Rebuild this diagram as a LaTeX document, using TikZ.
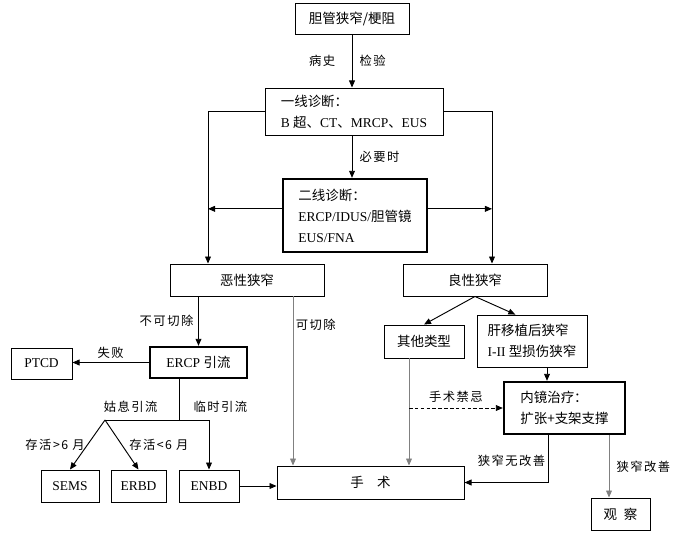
\documentclass[tikz,border=0pt]{standalone}
\usepackage{fontspec}
\setmainfont{Liberation Serif}
\newfontfamily\cjk{Noto Sans CJK SC}
\newfontfamily\cjklbl[LetterSpace=12]{Noto Sans CJK SC}
\usetikzlibrary{arrows.meta,calc}

\tikzset{
    >={Triangle[length=6pt,width=5pt]},
    box/.style={draw, inner sep=0cm, align=left, font=\fontsize{11.5}{18}\selectfont},
    thickbox/.style={box, line width=2pt},
    lbl/.style={inner sep=2pt, font=\cjklbl\fontsize{10.5}{12}\selectfont},
}

\begin{document}
\begin{tikzpicture}[x=0.03cm, y=-0.03cm, line width=0.8pt]
    \useasboundingbox (0,0) rectangle (679,536);
    \node[box, minimum width=3.42cm, minimum height=0.93cm] at (352,18.5) (top) {\cjk 胆管狭窄/梗阻};
    \node[box, minimum width=5.34cm, minimum height=1.41cm] at (354,111.5) (diag1) {{\cjk 一线诊断：}\\B {\cjk 超、}CT{\cjk 、}MRCP{\cjk 、}EUS};
    \node[thickbox, minimum width=4.32cm, minimum height=2.19cm] at (355,215.5) (diag2) {{\cjk 二线诊断：}\\ERCP/IDUS/{\cjk 胆管镜}\\EUS/FNA};
    \node[box, minimum width=4.62cm, minimum height=0.96cm] at (247,280) (malig) {\cjk 恶性狭窄};
    \node[box, minimum width=4.32cm, minimum height=0.96cm] at (475,280) (benign) {\cjk 良性狭窄};
    \node[thickbox, minimum width=2.91cm, minimum height=0.93cm] at (198.5,362.5) (ercp) {ERCP {\cjk 引流}};
    \node[box, minimum width=1.83cm, minimum height=0.93cm] at (41.5,363.5) (ptcd) {PTCD};
    \node[box, minimum width=1.74cm, minimum height=0.96cm] at (70,486) (sems) {SEMS};
    \node[box, minimum width=1.65cm, minimum height=0.96cm] at (138.5,486) (erbd) {ERBD};
    \node[box, minimum width=1.80cm, minimum height=0.96cm] at (209,486) (enbd) {ENBD};
    \node[box, minimum width=5.61cm, minimum height=0.99cm] at (370.5,482.5) (surgery) {\cjk 手\hspace{1em}术};
    \node[box, minimum width=2.40cm, minimum height=0.99cm] at (424,341.5) (other) {\cjk 其他类型};
    \node[box, minimum width=3.30cm, minimum height=1.56cm] at (532,341) (transplant) {{\cjk 肝移植后狭窄}\\I-II {\cjk 型损伤狭窄}};
    \node[thickbox, minimum width=3.63cm, minimum height=1.56cm] at (564.5,408) (endo) {{\cjk 内镜治疗：}\\{\cjk 扩张+支架支撑}};
    \node[box, minimum width=1.77cm, minimum height=0.96cm] at (620.5,514) (observe) {\cjk 观\hspace{0.5em}察};
    \coordinate (lcol) at (208,0);
    \coordinate (rcol) at (492,0);
    \coordinate (rescol) at (293,0);
    \coordinate (ocol) at (409,0);
    \coordinate (tcol) at (547,0);
    \coordinate (failcol) at (548,0);
    \coordinate (goodcol) at (609,0);
    \coordinate (fork) at (179,420);
    \coordinate (palli) at (105,420);
    % diagnosis
    \draw[->] (top.south) -- (top.south |- diag1.north)
        node[lbl, midway, left=12pt] {病史} node[lbl, midway, right=4pt] {检验};
    \draw[->] (top.south |- diag1.south) -- (top.south |- diag2.north) node[lbl, midway, right=4pt] {必要时};
    \draw[->] (diag1.west) -| (lcol |- malig.north);
    \draw[->] (diag1.east) -| (rcol |- benign.north);
    \draw[->] ([yshift=0.2cm]diag2.west) -- ([yshift=0.2cm]diag2.west -| lcol);
    \draw[->] ([yshift=0.2cm]diag2.east) -- ([yshift=0.2cm]diag2.east -| rcol);
    % malignant
    \draw[->] (ercp.north |- malig.south) -- (ercp.north) node[lbl, midway, left=2pt] {不可切除};
    \draw[->] (ercp.west) -- (ercp.west -| ptcd.east) node[lbl, midway, above=1pt] {失败};
    \draw[->, gray] (rescol |- malig.south) -- (rescol |- surgery.north) node[lbl, pos=0.17, right, black] {可切除};
    \draw (fork |- ercp.south) -- (fork)
        node[lbl, pos=0.67, left=16pt] {姑息引流} node[lbl, pos=0.67, right=10pt] {临时引流};
    \draw[->] (palli) -| (enbd.north);
    \draw[->] (palli) -- (sems.north) node[lbl, midway, left=0pt] {存活>6 月};
    \draw[->] (palli) -- (erbd.north) node[lbl, midway, right=4pt] {存活<6 月};
    \draw[->] (enbd.east) -- (enbd.east -| surgery.west);
    % benign
    \draw[->] (benign.south) -- (other.north);
    \draw[->] (benign.south) -- ($(transplant.north west)!0.35!(transplant.north east)$);
    \draw[->] (tcol |- transplant.south) -- (tcol |- endo.north);
    \draw[->, gray] (ocol |- other.south) -- (ocol |- surgery.north);
    \draw[->, dash pattern=on 3pt off 2pt] (ocol |- endo.west) -- (endo.west) node[lbl, midway, above=2pt] {手术禁忌};
    \draw[->] (failcol |- endo.south) |- (surgery.east) node[lbl, pos=0.27, left=0pt] {狭窄无改善};
    \draw[->, gray] (goodcol |- endo.south) -- (goodcol |- observe.north) node[lbl, midway, right=4pt, black] {狭窄改善};
\end{tikzpicture}
\end{document}
